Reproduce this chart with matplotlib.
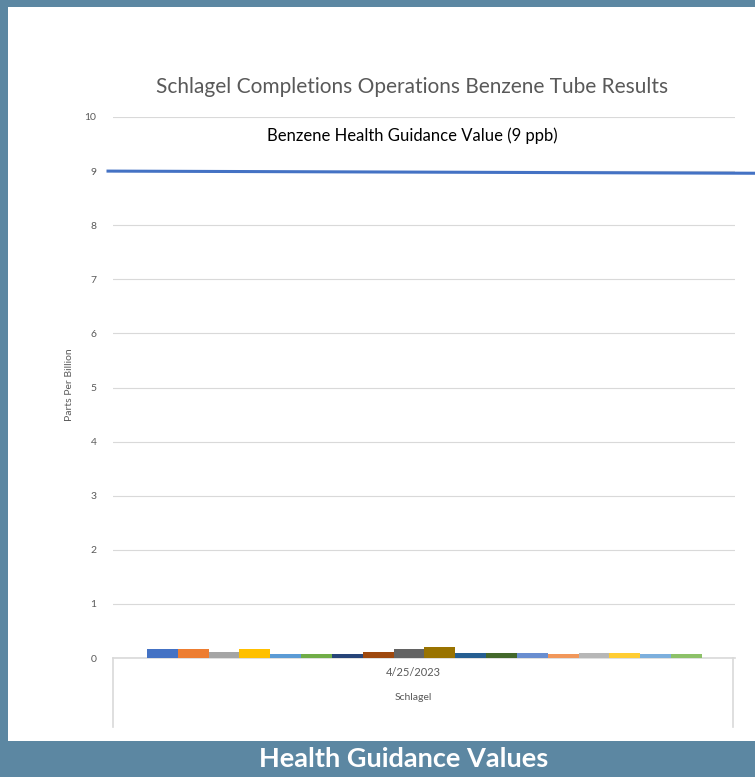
import matplotlib.pyplot as plt
from matplotlib.patches import Rectangle
from matplotlib.lines import Line2D
import numpy as np

plt.rcParams["font.family"] = ["Lato", "DejaVu Sans"]

# series data (one bar per sample, single date category)
category = "4/25/2023"
site = "Schlagel"
values = [0.16, 0.16, 0.105, 0.16, 0.075, 0.075, 0.08, 0.105, 0.17,
          0.2, 0.1, 0.1, 0.1, 0.08, 0.1, 0.1, 0.08, 0.08]
colors = ["#4472C4", "#ED7D31", "#A5A5A5", "#FFC000", "#5B9BD5", "#70AD47",
          "#264478", "#9E480E", "#636363", "#997300", "#255E91", "#43682B",
          "#698ED0", "#F1975A", "#B7B7B7", "#FFCD33", "#7CAFDD", "#8CC168"]
guidance_value = 9
yticks = list(range(0, 11))

W, H = 755, 777
fig = plt.figure(figsize=(W / 100, H / 100), dpi=100)
fig.patch.set_facecolor("#5C87A2")

# white slide panel
fig.patches.append(Rectangle((8 / W, 1 - 741 / H), 1 - 8 / W, (741 - 7) / H,
                             transform=fig.transFigure, facecolor="white",
                             edgecolor="none", zorder=-10))

ax = fig.add_axes([113 / W, 1 - 658 / H, (735 - 113) / W, (658 - 117) / H])
ax.set_facecolor("none")
ax.set_zorder(1)

x = np.arange(len(values))
ax.bar(x, values, width=1.0, color=colors, zorder=3)
ax.set_xlim(-1.6, 18.57)
ax.set_ylim(0, 10)
ax.set_yticks(yticks)
ax.tick_params(axis="y", length=0, labelsize=7.5, labelcolor="#595959", pad=12)
ax.set_xticks([])
ax.grid(axis="y", color="#D9D9D9", linewidth=0.8, zorder=0)
for s in ["top", "right", "left"]:
    ax.spines[s].set_visible(False)
ax.spines["bottom"].set_color("#D9D9D9")
ax.spines["bottom"].set_linewidth(1.2)

# guidance line
ax.add_line(Line2D([-0.008, 1.04], [guidance_value, guidance_value - 0.04],
                   transform=ax.get_yaxis_transform(), color="#4472C4",
                   linewidth=2.2, clip_on=False, zorder=4))
ax.text(0.482, 9.65, "Benzene Health Guidance Value (9 ppb)",
        transform=ax.get_yaxis_transform(), ha="center", va="center",
        fontsize=12, color="black")

# category axis box
for xp in [113, 733]:
    fig.add_artist(Line2D([xp / W, xp / W], [1 - 658 / H, 1 - 727 / H],
                          color="#D9D9D9", linewidth=1.2))
fig.text(413 / W, 1 - 672 / H, category, ha="center", va="center",
         fontsize=8, color="#595959")
fig.text(413 / W, 1 - 697 / H, site, ha="center", va="center",
         fontsize=7.5, color="#595959")

fig.text(412 / W, 1 - 87 / H, "Schlagel Completions Operations Benzene Tube Results",
         ha="center", va="center", fontsize=15, color="#595959")
fig.text(70 / W, 1 - 385 / H, "Parts Per Billion", rotation=90, ha="center",
         va="center", fontsize=7.5, color="#595959")

fig.text(404 / W, 1 - 759 / H, "Health Guidance Values", ha="center",
         va="center", fontsize=19.5, color="white", fontweight="bold")

fig.savefig("out.png", dpi=100, facecolor=fig.get_facecolor())
